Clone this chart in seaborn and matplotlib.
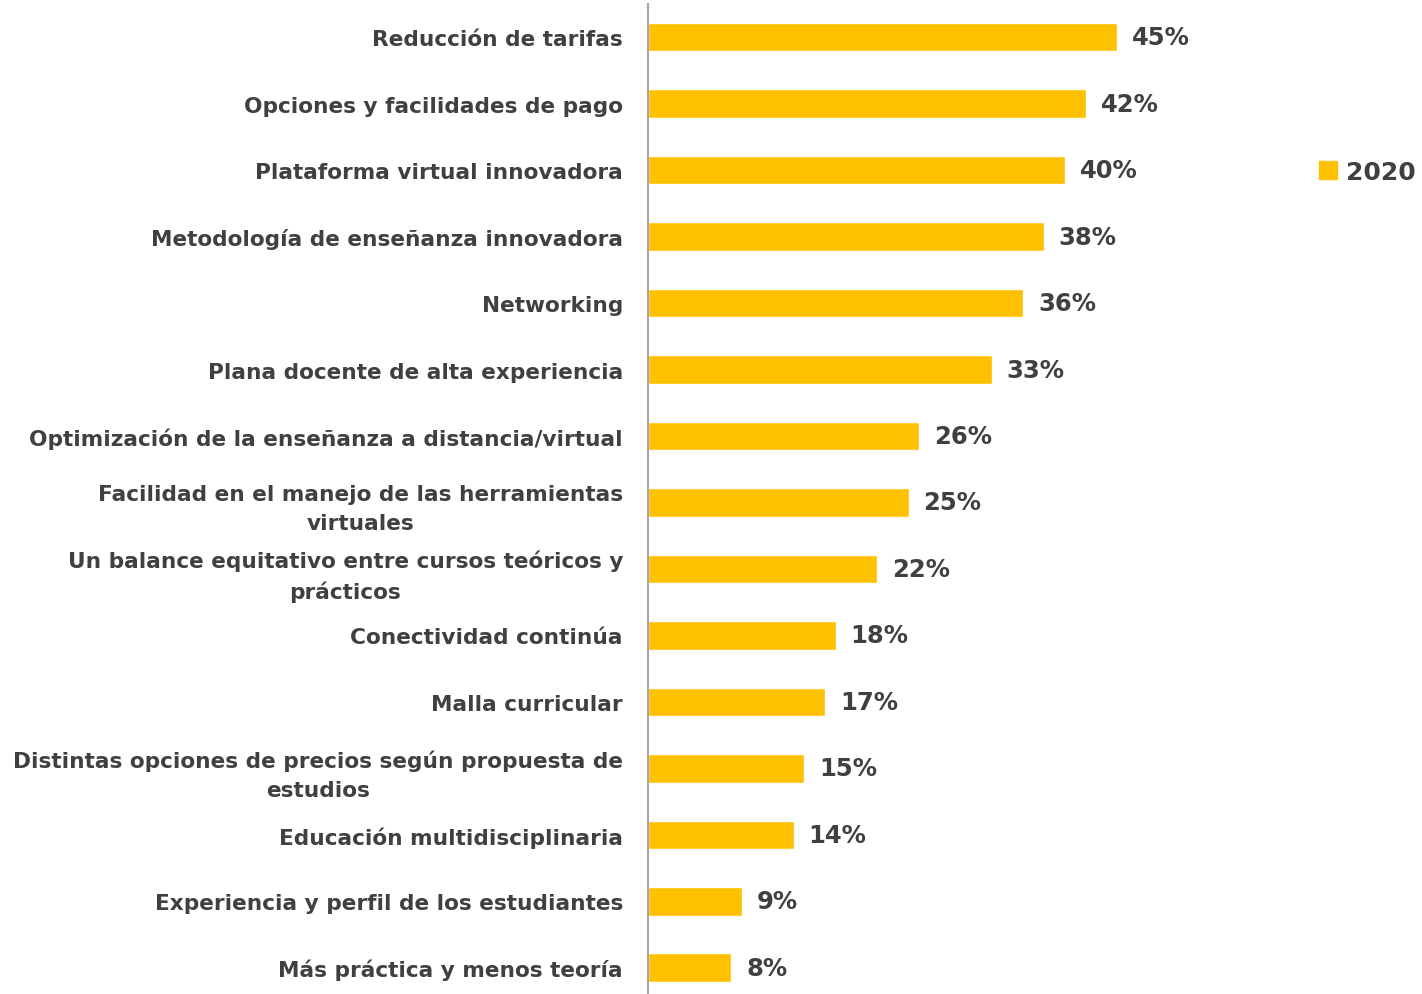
import pandas as pd
import matplotlib
matplotlib.use("Agg")
import matplotlib.pyplot as plt
import seaborn as sns

categories = [
    "Reducción de tarifas",
    "Opciones y facilidades de pago",
    "Plataforma virtual innovadora",
    "Metodología de enseñanza innovadora",
    "Networking",
    "Plana docente de alta experiencia",
    "Optimización de la enseñanza a distancia/virtual",
    "Facilidad en el manejo de las herramientas\nvirtuales",
    "Un balance equitativo entre cursos teóricos y\nprácticos",
    "Conectividad continúa",
    "Malla curricular",
    "Distintas opciones de precios según propuesta de\nestudios",
    "Educación multidisciplinaria",
    "Experiencia y perfil de los estudiantes",
    "Más práctica y menos teoría",
]
values_2020 = [45, 42, 40, 38, 36, 33, 26, 25, 22, 18, 17, 15, 14, 9, 8]
series_name = "2020"

BAR = "#FFC000"
TEXT = "#404040"

df = pd.DataFrame({"categoria": categories, "valor": values_2020, "serie": series_name})

sns.set_theme(style="white")
plt.rcParams["font.family"] = ["DejaVu Sans"]

fig = plt.figure(figsize=(14.22, 9.95), dpi=100)
ax = fig.add_axes([648 / 1422, -0.007, 0.44, 1.002])

sns.barplot(data=df, y="categoria", x="valor", hue="serie", palette=[BAR],
            width=0.43, orient="h", ax=ax, saturation=1)

ax.set_xlim(0, 60)
ax.set_ylim(14.5, -0.5)
ax.set_xlabel("")
ax.set_ylabel("")
ax.set_xticks([])
for s in ["top", "right", "bottom"]:
    ax.spines[s].set_visible(False)
ax.spines["left"].set_color("#A6A6A6")
ax.spines["left"].set_linewidth(1.5)

ax.tick_params(axis="y", length=0, pad=18)
for lbl in ax.get_yticklabels():
    lbl.set_fontsize(15.6)
    lbl.set_fontweight("bold")
    lbl.set_color(TEXT)
    lbl.set_multialignment("center")
    lbl.set_linespacing(1.55)

for i, v in enumerate(values_2020):
    ax.text(v + 1.4, i, f"{v}%", va="center", ha="left",
            fontsize=17.5, fontweight="bold", color=TEXT)

ax.legend_.remove()
handles = [plt.Rectangle((0, 0), 1, 1, color=BAR)]
fig.legend(handles, [series_name], loc="center left", bbox_to_anchor=(1296 / 1422, 1 - 173 / 995),
           frameon=False, handlelength=0.75, handleheight=0.75,
           handletextpad=0.35, prop={"weight": "bold", "size": 18}, labelcolor=TEXT)

fig.savefig("out.png", dpi=100)
